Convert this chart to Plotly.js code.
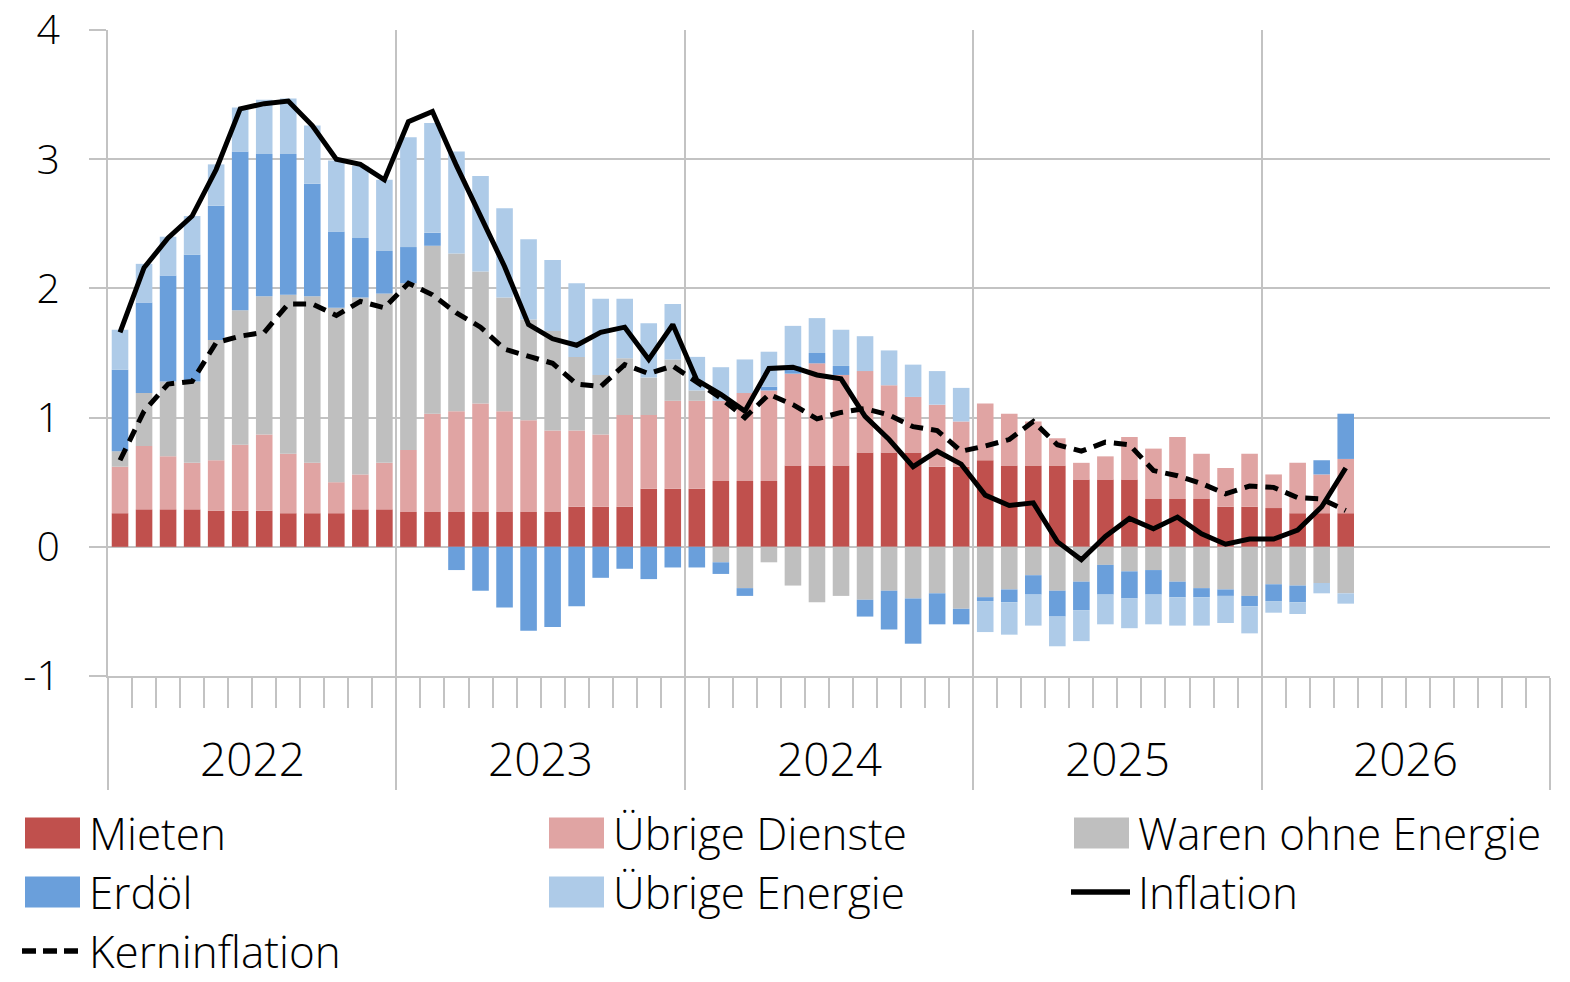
<!DOCTYPE html>
<html><head><meta charset="utf-8">
<script src="https://cdn.plot.ly/plotly-3.0.1.min.js"></script>
<style>html,body{margin:0;padding:0;background:#fff}</style>
</head><body>
<div id="chart" style="width:1570px;height:982px"></div>
<script>
// ---- Data (Jan 2022 – Apr 2026), contributions in percentage points ----
const months = [
 '2022-01','2022-02','2022-03','2022-04','2022-05','2022-06','2022-07','2022-08','2022-09','2022-10','2022-11','2022-12',
 '2023-01','2023-02','2023-03','2023-04','2023-05','2023-06','2023-07','2023-08','2023-09','2023-10','2023-11','2023-12',
 '2024-01','2024-02','2024-03','2024-04','2024-05','2024-06','2024-07','2024-08','2024-09','2024-10','2024-11','2024-12',
 '2025-01','2025-02','2025-03','2025-04','2025-05','2025-06','2025-07','2025-08','2025-09','2025-10','2025-11','2025-12',
 '2026-01','2026-02','2026-03','2026-04'];
const years = ['2022','2023','2024','2025','2026'];
const yTickLabels = ['-1','0','1','2','3','4'];
const yTickValues = [-1,0,1,2,3,4];

const mieten = [
 0.26,0.29,0.29,0.29,0.28,0.28,0.28,0.26,0.26,0.26,0.29,0.29,
 0.27,0.27,0.27,0.27,0.27,0.27,0.27,0.31,0.31,0.31,0.45,0.45,
 0.45,0.51,0.51,0.51,0.63,0.63,0.63,0.73,0.73,0.73,0.62,0.62,
 0.67,0.63,0.63,0.63,0.52,0.52,0.52,0.37,0.37,0.37,0.31,0.31,
 0.30,0.26,0.26,0.26];
const uebrigeDienste = [
 0.36,0.49,0.41,0.36,0.39,0.51,0.59,0.46,0.39,0.24,0.27,0.36,
 0.48,0.76,0.78,0.84,0.78,0.71,0.63,0.59,0.56,0.71,0.57,0.68,
 0.68,0.62,0.68,0.70,0.71,0.79,0.70,0.63,0.52,0.43,0.48,0.35,
 0.44,0.40,0.34,0.21,0.13,0.18,0.33,0.39,0.48,0.35,0.30,0.41,
 0.26,0.39,0.30,0.42];
const warenOhneEnergie = [
 0.12,0.41,0.58,0.63,0.93,1.04,1.07,1.23,1.29,1.35,1.37,1.31,
 1.29,1.30,1.22,1.02,0.88,0.78,0.77,0.57,0.46,0.44,0.29,0.32,
 0.08,-0.12,-0.32,-0.12,-0.30,-0.43,-0.38,-0.41,-0.34,-0.40,-0.36,-0.48,
 -0.39,-0.33,-0.22,-0.34,-0.27,-0.14,-0.19,-0.18,-0.27,-0.32,-0.33,-0.38,
 -0.29,-0.30,-0.28,-0.36];
const erdoel = [
 0.63,0.70,0.82,0.98,1.04,1.23,1.10,1.09,0.87,0.59,0.46,0.33,
 0.28,0.10,-0.18,-0.34,-0.47,-0.65,-0.62,-0.46,-0.24,-0.17,-0.25,-0.16,
 -0.16,-0.09,-0.06,0.03,0.06,0.08,0.07,-0.13,-0.30,-0.35,-0.24,-0.12,
 -0.03,-0.10,-0.15,-0.20,-0.22,-0.23,-0.21,-0.19,-0.12,-0.07,-0.05,-0.08,
 -0.13,-0.13,0.11,0.35];
const uebrigeEnergie = [
 0.31,0.30,0.30,0.30,0.32,0.34,0.42,0.43,0.45,0.55,0.56,0.55,
 0.85,0.85,0.79,0.74,0.69,0.62,0.55,0.57,0.59,0.46,0.42,0.43,
 0.26,0.26,0.26,0.27,0.31,0.27,0.28,0.27,0.27,0.25,0.26,0.26,
 -0.24,-0.25,-0.24,-0.23,-0.24,-0.23,-0.23,-0.23,-0.22,-0.22,-0.21,-0.21,
 -0.09,-0.09,-0.08,-0.08];
const inflation = [
 1.66,2.16,2.39,2.56,2.92,3.39,3.43,3.45,3.26,3.00,2.96,2.84,
 3.29,3.37,2.95,2.57,2.17,1.72,1.61,1.56,1.66,1.70,1.45,1.72,
 1.29,1.18,1.05,1.38,1.39,1.33,1.30,1.01,0.83,0.62,0.74,0.64,
 0.40,0.32,0.34,0.04,-0.10,0.08,0.22,0.14,0.23,0.10,0.02,0.06,
 0.06,0.13,0.31,0.61];
const kerninflation = [
 0.67,1.05,1.26,1.28,1.58,1.63,1.66,1.88,1.88,1.79,1.90,1.85,
 2.04,1.95,1.81,1.70,1.53,1.47,1.42,1.26,1.24,1.41,1.34,1.40,
 1.27,1.15,1.00,1.18,1.10,0.99,1.04,1.07,1.02,0.93,0.90,0.74,
 0.78,0.83,0.97,0.79,0.74,0.81,0.79,0.59,0.55,0.49,0.41,0.47,
 0.46,0.38,0.37,0.28];

// ---- Styling ----
const names = ['Mieten','Übrige Dienste','Waren ohne Energie','Erdöl','Übrige Energie','Inflation','Kerninflation'];
const colors = ['#c0504d','#e0a4a3','#bfbfbf','#6a9fdb','#aecbe8','#000000','#000000'];
const FONT = 'Open Sans, Liberation Sans, sans-serif';
const GRID = '#c3c3c3';

const x = months.map((m, i) => i);
const barSeries = [mieten, uebrigeDienste, warenOhneEnergie, erdoel, uebrigeEnergie];
const traces = barSeries.map((vals, k) => ({
  type: 'bar', x: x, y: vals, name: names[k],
  marker: {color: colors[k], line: {width: 0}}, hoverinfo: 'skip'
}));
traces.push({type:'scatter', mode:'lines', x:x, y:inflation, name:names[5],
  line:{color:'#000', width:5}});
traces.push({type:'scatter', mode:'lines', x:x, y:kerninflation, name:names[6],
  line:{color:'#000', width:5, dash:'13px,8px'}});

// plot-area pixel frame
const PL = 108, PR = 1550, PT = 30, PB = 676;
const px2x = p => (p - PL) / (PR - PL);
const px2y = p => (PB - p) / (PB - PT);

const nMonths = years.length * 12;
const yearBounds = years.map((y, i) => i * 12 - 0.5).concat([nMonths - 0.5]);
const monthBounds = Array.from({length: nMonths + 1}, (_, i) => i - 0.5);

const annotations = years.map((yr, i) => ({
  x: i * 12 + 5.5, y: px2y(758), xref: 'x', yref: 'paper', text: yr, showarrow: false,
  xanchor: 'center', yanchor: 'middle', font: {family: FONT, size: 46, color: '#000', weight: 300}
}));
const shapes = [];
const colX = [25, 549, 1074];
const rowY = [833, 892, 951];
const legendPos = [[0,0],[1,0],[2,0],[0,1],[1,1],[2,1],[0,2]];
legendPos.forEach(([c, r], k) => {
  const lx = colX[c], ly = rowY[r];
  if (k < 5) {
    shapes.push({type:'rect', xref:'paper', yref:'paper', x0:px2x(lx), x1:px2x(lx+55),
      y0:px2y(ly+15.5), y1:px2y(ly-15.5), fillcolor:colors[k], line:{width:0}});
  } else {
    shapes.push({type:'line', xref:'paper', yref:'paper', x0:px2x(lx-3), x1:px2x(lx+56),
      y0:px2y(ly), y1:px2y(ly), line:{color:'#000', width:5.5, dash: k === 6 ? '14px,7px' : 'solid'}});
  }
  annotations.push({x:px2x(lx+62), y:px2y(ly), xref:'paper', yref:'paper', text:names[k],
    showarrow:false, xanchor:'left', yanchor:'middle',
    font:{family:FONT, size:44, color:'#000', weight:300}});
});

const layout = {
  width: 1570, height: 982,
  margin: {l: PL, r: 1570 - PR, t: PT, b: 982 - PB},
  paper_bgcolor: '#fff', plot_bgcolor: '#fff',
  barmode: 'relative', bargap: 0.31,
  showlegend: false,
  xaxis: {
    range: [-0.5, nMonths - 0.5], tickmode: 'array', tickvals: yearBounds,
    showticklabels: false, ticks: 'outside', ticklen: 112, tickwidth: 2, tickcolor: GRID,
    showgrid: true, gridcolor: GRID, gridwidth: 2, zeroline: false,
    showline: true, linecolor: GRID, linewidth: 2,
    minor: {tickmode: 'array', tickvals: monthBounds, ticks: 'outside', ticklen: 30,
            tickwidth: 2, tickcolor: GRID, showgrid: false}
  },
  yaxis: {
    range: [-1, 4], tickmode: 'array', tickvals: yTickValues, ticktext: yTickLabels,
    ticks: 'outside', ticklen: 17, tickwidth: 2, tickcolor: GRID,
    showgrid: true, gridcolor: GRID, gridwidth: 2, zeroline: false,
    showline: true, linecolor: GRID, linewidth: 2,
    ticklabelstandoff: 21,
    tickfont: {family: FONT, size: 41, color: '#000', weight: 300}
  },
  annotations: annotations,
  shapes: shapes
};
Plotly.newPlot('chart', traces, layout, {displayModeBar: false, staticPlot: true});
</script>
</body></html>
